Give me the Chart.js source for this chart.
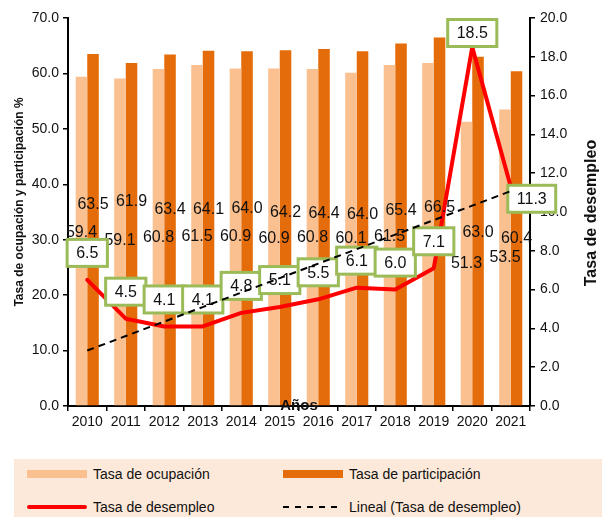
<!DOCTYPE html>
<html>
<head>
<meta charset="utf-8">
<script src="https://cdn.jsdelivr.net/npm/chart.js@4.4.1/dist/chart.umd.min.js"></script>
<style>
  body { margin: 0; background: #fff; font-family: 'Liberation Sans', Arial, sans-serif; }
  #wrap { position: relative; width: 602px; height: 517px; }
  #legend { position: absolute; left: 14px; top: 459px; width: 588px; height: 58px; background: #fde9d9; }
  .item { position: absolute; font-size: 14px; color: #111; line-height: 16px; }
  .sw { position: absolute; width: 60px; }
  .txt { position: absolute; white-space: nowrap; }
</style>
</head>
<body>
<div id="wrap">
  <canvas id="chart" width="602" height="517"></canvas>
  <div id="legend"></div>
</div>
<script>
// ===== Data =====
const years = ['2010', '2011', '2012', '2013', '2014', '2015', '2016', '2017', '2018', '2019', '2020', '2021']
const ocupacion = [59.4, 59.1, 60.8, 61.5, 60.9, 60.9, 60.8, 60.1, 61.5, 61.9, 51.3, 53.5]
const participacion = [63.5, 61.9, 63.4, 64.1, 64.0, 64.2, 64.4, 64.0, 65.4, 66.5, 63.0, 60.4]
const desempleo = [6.5, 4.5, 4.1, 4.1, 4.8, 5.1, 5.5, 6.1, 6.0, 7.1, 18.5, 11.3]
const leftTicks = [0, 10, 20, 30, 40, 50, 60, 70]
const rightTicks = [0, 2, 4, 6, 8, 10, 12, 14, 16, 18, 20]

// where Excel left the bar value labels (left axis units)
const ocupLabelAt = [31.3, 29.8, 30.4, 30.6, 30.6, 30.2, 30.4, 30.2, 30.6, 30.6, 25.7, 26.8]
const partLabelAt = [36.3, 36.9, 35.4, 35.4, 35.6, 34.9, 34.7, 34.5, 35.3, 35.8, 31.3, 30.2]

// linear trendline (least squares) of unemployment, like Excel's "Lineal"
function linearTrend(values) {
  const n = values.length
  const mx = (n - 1) / 2
  const my = values.reduce((s, v) => s + v, 0) / n
  let sxy = 0, sxx = 0
  values.forEach((v, i) => { sxy += (i - mx) * (v - my); sxx += (i - mx) * (i - mx) })
  const slope = sxy / sxx
  return values.map((v, i) => my + slope * (i - mx))
}

const FONT = "'Liberation Sans', Arial, sans-serif"
const C_OCUP = '#fac090'
const C_PART = '#e46c0a'
const C_RED = '#ff0000'
const C_BOX = '#9bbb59'

const labelsPlugin = {
  id: 'labels',
  afterDatasetDraw(chart, args) {
    if (args.index !== 2) return
    const ctx = chart.ctx
    const yL = chart.scales.y
    ctx.save()
    ctx.font = '16px ' + FONT
    ctx.fillStyle = '#111'
    ctx.textAlign = 'center'
    ctx.textBaseline = 'middle'
    // bar value labels
    chart.getDatasetMeta(0).data.forEach((bar, i) => {
      ctx.fillText(ocupacion[i].toFixed(1), bar.x, yL.getPixelForValue(ocupLabelAt[i]))
    })
    chart.getDatasetMeta(1).data.forEach((bar, i) => {
      ctx.fillText(participacion[i].toFixed(1), bar.x, yL.getPixelForValue(partLabelAt[i]))
    })
    // unemployment boxed labels
    const pts = chart.getDatasetMeta(2).data
    const top = chart.chartArea.top
    pts.forEach((p, i) => {
      const txt = desempleo[i].toFixed(1)
      let cx = p.x
      let cy = Math.max(p.y - 27, top + 15)
      if (i === pts.length - 1) { cx = p.x + 21; cy = p.y + 12 }
      const w = ctx.measureText(txt).width + 18
      const h = 27
      ctx.fillStyle = '#fff'
      ctx.fillRect(cx - w / 2, cy - h / 2, w, h)
      ctx.strokeStyle = C_BOX
      ctx.lineWidth = 3
      ctx.strokeRect(cx - w / 2, cy - h / 2, w, h)
      ctx.fillStyle = '#111'
      ctx.fillText(txt, cx, cy + 1)
    })
    ctx.restore()
  },
  afterDraw(chart) {
    const ctx = chart.ctx
    const a = chart.chartArea
    ctx.save()
    ctx.fillStyle = '#111'
    ctx.textAlign = 'center'
    ctx.textBaseline = 'middle'
    ctx.font = 'bold 15px ' + FONT
    ctx.fillText('Años', (a.left + a.right) / 2, a.bottom)
    ctx.save()
    ctx.translate(20, 202)
    ctx.rotate(-Math.PI / 2)
    ctx.font = 'bold 12px ' + FONT
    ctx.fillText('Tasa de ocupación y participación %', 0, 0)
    ctx.restore()
    ctx.translate(592, 213)
    ctx.rotate(-Math.PI / 2)
    ctx.font = 'bold 16px ' + FONT
    ctx.fillText('Tasa de desempleo', 0, 0)
    ctx.restore()
  }
}

const axisBase = {
  border: { color: '#000', width: 2 },
  grid: { drawOnChartArea: false, color: '#000', tickLength: 5, lineWidth: 1.5 },
  ticks: { color: '#111', font: { size: 14, family: FONT } }
}

const chart = new Chart(document.getElementById('chart'), {
  type: 'bar',
  data: {
    labels: years,
    datasets: [
      { label: 'Tasa de ocupación', data: ocupacion, backgroundColor: C_OCUP, yAxisID: 'y', order: 3,
        categoryPercentage: 0.6, barPercentage: 1.0 },
      { label: 'Tasa de participación', data: participacion, backgroundColor: C_PART, yAxisID: 'y', order: 4,
        categoryPercentage: 0.6, barPercentage: 1.0 },
      { type: 'line', label: 'Tasa de desempleo', data: desempleo, borderColor: C_RED, borderWidth: 4,
        pointRadius: 0, tension: 0, yAxisID: 'y2', order: 2, borderCapStyle: 'round', borderJoinStyle: 'round' },
      { type: 'line', label: 'Lineal (Tasa de desempleo)', data: linearTrend(desempleo), borderColor: '#000',
        borderWidth: 2, borderDash: [7, 5], pointRadius: 0, yAxisID: 'y2', order: 1 }
    ]
  },
  options: {
    responsive: false,
    devicePixelRatio: 1,
    animation: false,
    layout: { padding: { top: 18, left: 0, right: 0, bottom: 0 } },
    plugins: { legend: { display: false }, tooltip: { enabled: false } },
    scales: {
      x: {
        ...axisBase,
        grid: { ...axisBase.grid, offset: true },
        ticks: { ...axisBase.ticks, padding: 3, maxRotation: 0 },
        afterFit(s) { s.height = 111 }
      },
      y: {
        ...axisBase,
        position: 'left',
        min: 0, max: 70,
        afterBuildTicks(s) { s.ticks = leftTicks.map(v => ({ value: v })) },
        ticks: { ...axisBase.ticks, padding: 4, callback: v => v.toFixed(1) },
        afterFit(s) { s.width = 68 }
      },
      y2: {
        ...axisBase,
        position: 'right',
        min: 0, max: 20,
        afterBuildTicks(s) { s.ticks = rightTicks.map(v => ({ value: v })) },
        ticks: { ...axisBase.ticks, padding: 5, callback: v => v.toFixed(1) },
        afterFit(s) { s.width = 72 }
      }
    }
  },
  plugins: [labelsPlugin]
})

// ===== HTML legend, two columns like the Excel one =====
const legendEl = document.getElementById('legend')
const cols = [13, 269]
const rows = [15, 48]
chart.data.datasets.forEach((ds, i) => {
  const x = cols[i % 2]
  const y = rows[Math.floor(i / 2)]
  const sw = document.createElement('div')
  sw.className = 'sw'
  sw.style.left = x + 'px'
  if (ds.type !== 'line') {
    sw.style.top = (y - 4) + 'px'
    sw.style.height = '8px'
    sw.style.background = ds.backgroundColor
  } else if (!ds.borderDash) {
    sw.style.top = (y - 2) + 'px'
    sw.style.height = '4px'
    sw.style.borderRadius = '2px'
    sw.style.background = ds.borderColor
  } else {
    sw.style.top = (y - 1) + 'px'
    sw.style.height = '2px'
    sw.style.width = '56px'
    sw.style.background = 'repeating-linear-gradient(to right, #000 0 6px, transparent 6px 12px)'
  }
  legendEl.appendChild(sw)
  const t = document.createElement('div')
  t.className = 'item txt'
  t.style.left = (x + 66) + 'px'
  t.style.top = (y - 8) + 'px'
  t.textContent = ds.label
  legendEl.appendChild(t)
})
</script>
</body>
</html>
